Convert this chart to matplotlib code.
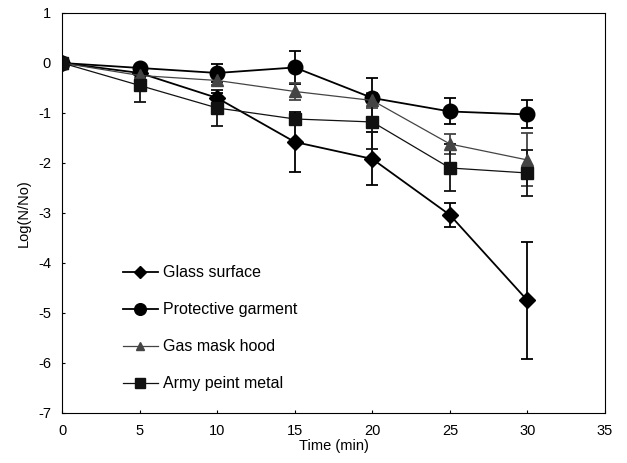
import matplotlib

matplotlib.use("Agg")
import matplotlib.pyplot as plt

plt.rcParams["font.family"] = ["Liberation Sans", "DejaVu Sans"]
plt.rcParams["axes.unicode_minus"] = False

# data
time_min = [0, 5, 10, 15, 20, 25, 30]

glass = [0, -0.2, -0.7, -1.58, -1.92, -3.04, -4.75]
glass_err = [0, 0.05, 0.1, 0.6, 0.53, 0.24, 1.17]

garment = [0, -0.1, -0.2, -0.09, -0.7, -0.97, -1.03]
garment_err = [0, 0.05, 0.18, 0.33, 0.4, 0.26, 0.28]

hood = [0, -0.25, -0.35, -0.57, -0.75, -1.62, -1.94]
hood_err = [0, 0.05, 0.1, 0.17, 0.15, 0.2, 0.53]

metal = [0, -0.45, -0.9, -1.12, -1.18, -2.1, -2.2]
metal_err = [0, 0.33, 0.36, 0.1, 0.55, 0.47, 0.46]

labels = ["Glass surface", "Protective garment", "Gas mask hood", "Army peint metal"]

fig = plt.figure(figsize=(6.27, 4.63), dpi=100)
ax = fig.add_axes([0.099, 0.108, 0.866, 0.864])

series = [
    (glass, glass_err, "D", 8, "black", 1.3),
    (garment, garment_err, "o", 10.5, "black", 1.3),
    (hood, hood_err, "^", 8, "#444444", 0.9),
    (metal, metal_err, "s", 9, "#111111", 0.9),
]
for (ys, es, mk, ms, col, lw), lb in zip(series, labels):
    ax.errorbar(time_min, ys, yerr=es, marker=mk, markersize=ms, color=col,
                linewidth=lw, elinewidth=1.3, capsize=4.5, capthick=1.3,
                label=lb)

ax.set_xlim(0, 35)
ax.set_ylim(-7, 1)
ax.set_xticks(range(0, 36, 5))
ax.set_yticks(range(-7, 2))
ax.tick_params(direction="in", length=2, labelsize=10.5, pad=8)
ax.set_xlabel("Time (min)", fontsize=10.5, labelpad=1)
ax.set_ylabel("Log(N/No)", fontsize=10.5, labelpad=5)

handles, lbls = ax.get_legend_handles_labels()
handles = [h[0] for h in handles]
ax.legend(handles, lbls, loc="lower left", bbox_to_anchor=(0.085, 0.018),
          frameon=False, fontsize=11.5, handlelength=2.2, labelspacing=1.38,
          handletextpad=0.3, markerscale=0.8)

fig.savefig("out.png", dpi=100)
